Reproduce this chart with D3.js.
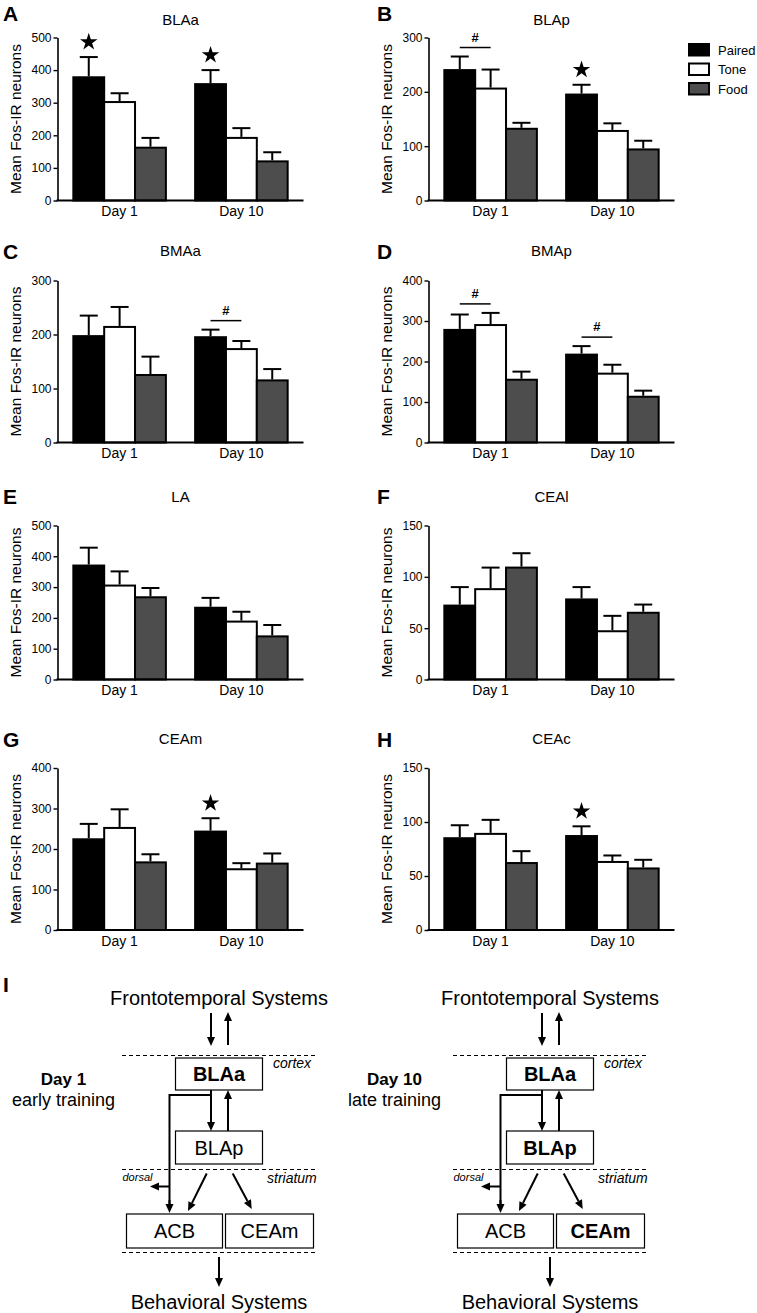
<!DOCTYPE html>
<html><head><meta charset="utf-8">
<script src="https://cdn.jsdelivr.net/npm/d3@7"></script>
<style>body{margin:0;background:#fff} svg text{font-family:"Liberation Sans",Arial,Helvetica,sans-serif}</style>
</head><body><svg id="fig" width="757" height="1313"></svg>
<script>
// ---------- data ----------
const days = ["Day 1", "Day 10"];
const groups = ["Paired", "Tone", "Food"];
const groupColors = ["#000000", "#ffffff", "#4d4d4d"];
const panelLetters = ["A", "B", "C", "D", "E", "F", "G", "H"];
const regions = ["BLAa", "BLAp", "BMAa", "BMAp", "LA", "CEAl", "CEAm", "CEAc"];
const yMaxes = [500, 300, 300, 400, 500, 150, 400, 150];
const yTickSteps = [100, 100, 100, 100, 100, 50, 100, 50];
// order: Day 1 Paired, Tone, Food, Day 10 Paired, Tone, Food
const meanBLAa = [378, 302, 162, 357, 192, 120];
const semBLAa  = [62, 27, 30, 43, 30, 28];
const meanBLAp = [240, 206, 132, 195, 128, 94];
const semBLAp  = [25, 35, 11, 18, 14, 16];
const meanBMAa = [197, 214, 125, 195, 173, 115];
const semBMAa  = [38, 37, 34, 14, 15, 21];
const meanBMAp = [278, 290, 155, 217, 170, 113];
const semBMAp  = [38, 30, 20, 21, 22, 15];
const meanLA   = [370, 305, 267, 233, 188, 140];
const semLA    = [58, 46, 30, 32, 32, 37];
const meanCEAl = [72, 88, 109, 78, 47, 65];
const semCEAl  = [18, 21, 14, 12, 15, 8];
const meanCEAm = [224, 252, 167, 243, 150, 164];
const semCEAm  = [38, 46, 20, 33, 15, 25];
const meanCEAc = [85, 89, 62, 87, 63, 57];
const semCEAc  = [12, 13, 11, 9, 6, 8];
const stars  = [["BLAa", "Day 1"], ["BLAa", "Day 10"], ["BLAp", "Day 10"], ["CEAm", "Day 10"], ["CEAc", "Day 10"]];
const hashes = [["BLAp", "Day 1"], ["BMAa", "Day 10"], ["BMAp", "Day 1"], ["BMAp", "Day 10"]];
const yLabel = "Mean Fos-IR neurons";

const means = [meanBLAa, meanBLAp, meanBMAa, meanBMAp, meanLA, meanCEAl, meanCEAm, meanCEAc];
const sems  = [semBLAa, semBLAp, semBMAa, semBMAp, semLA, semCEAl, semCEAm, semCEAc];

// ---------- layout ----------
const svg = d3.select("#fig");
const colAxisX = [57.5, 428.5];
const axisLen = 246;
const rowTop = [37.5, 280.5, 525.5, 768];
const rowH = [163, 162, 154, 162];
const rowTitleY = [25, 256, 502, 744];
const rowLetterY = [21, 259, 504, 747];

const x0 = d3.scaleBand().domain(days).range([0, axisLen]).paddingInner(0.24).paddingOuter(0.13);
const x1 = d3.scaleBand().domain(groups).range([0, x0.bandwidth()]);

regions.forEach((reg, i) => {
  const col = i % 2, row = Math.floor(i / 2);
  const ox = colAxisX[col], top = rowTop[row], plotH = rowH[row];
  const g = svg.append("g").attr("transform", `translate(${ox},${top})`);
  const y = d3.scaleLinear().domain([0, yMaxes[i]]).range([plotH, 0]);
  const ticks = d3.range(0, yMaxes[i] + 1, yTickSteps[i]);

  // panel letter
  svg.append("text").attr("x", col === 0 ? 3 : 377).attr("y", rowLetterY[row])
    .attr("font-size", 21).attr("font-weight", "bold").text(panelLetters[i]);
  // title
  svg.append("text").attr("x", ox + axisLen / 2).attr("y", rowTitleY[row])
    .attr("text-anchor", "middle").attr("font-size", 15).text(reg);
  // y label
  svg.append("text").attr("transform", `translate(${ox - 37},${top + plotH / 2}) rotate(-90)`)
    .attr("text-anchor", "middle").attr("font-size", 15.5).text(yLabel);

  // bars
  const data = [];
  days.forEach((d, di) => groups.forEach((s, si) => {
    data.push({day: d, grp: s, si, m: means[i][di * 3 + si], e: sems[i][di * 3 + si]});
  }));
  const bw = x1.bandwidth();
  g.selectAll("rect.bar").data(data).enter().append("rect")
    .attr("x", p => x0(p.day) + x1(p.grp))
    .attr("y", p => y(p.m))
    .attr("width", bw)
    .attr("height", p => plotH - y(p.m))
    .attr("fill", p => groupColors[p.si])
    .attr("stroke", "#000").attr("stroke-width", 2);
  // error bars (upper only)
  data.forEach(p => {
    const cx = x0(p.day) + x1(p.grp) + bw / 2;
    g.append("line").attr("x1", cx).attr("x2", cx).attr("y1", y(p.m) - 1).attr("y2", y(p.m + p.e))
      .attr("stroke", "#000").attr("stroke-width", 2);
    g.append("line").attr("x1", cx - 9).attr("x2", cx + 9).attr("y1", y(p.m + p.e)).attr("y2", y(p.m + p.e))
      .attr("stroke", "#000").attr("stroke-width", 2);
  });

  // y axis
  const ya = g.append("g").call(d3.axisLeft(y).tickValues(ticks).tickSize(4).tickSizeOuter(0).tickPadding(2));
  ya.select(".domain").attr("stroke-width", 1.6);
  ya.selectAll(".tick line").attr("stroke-width", 1.4);
  ya.selectAll(".tick text").attr("font-size", 12).attr("font-family", "Liberation Sans, Arial, sans-serif");
  // x axis
  const xa = g.append("g").attr("transform", `translate(0,${plotH})`)
    .call(d3.axisBottom(x0).tickSize(0).tickPadding(6));
  xa.select(".domain").remove();
  xa.selectAll(".tick text").attr("font-size", 14).attr("font-family", "Liberation Sans, Arial, sans-serif");
  g.append("line").attr("x1", -1).attr("x2", axisLen).attr("y1", plotH).attr("y2", plotH)
    .attr("stroke", "#000").attr("stroke-width", 2);

  // stars
  stars.filter(s => s[0] === reg).forEach(s => {
    const di = days.indexOf(s[1]);
    const m = means[i][di * 3], e = sems[i][di * 3];
    const cx = x0(s[1]) + x1("Paired") + bw / 2;
    g.append("path").attr("d", d3.symbol(d3.symbolStar).size(95)())
      .attr("transform", `translate(${cx},${y(m + e) - 15})`).attr("fill", "#000");
  });
  // hashes
  hashes.filter(s => s[0] === reg).forEach(s => {
    const di = days.indexOf(s[1]);
    const topP = y(means[i][di * 3] + sems[i][di * 3]);
    const topT = y(means[i][di * 3 + 1] + sems[i][di * 3 + 1]);
    const ly = Math.min(topP, topT) - 9;
    const c1 = x0(s[1]) + x1("Paired") + bw / 2, c2 = x0(s[1]) + x1("Tone") + bw / 2;
    g.append("line").attr("x1", c1).attr("x2", c2).attr("y1", ly).attr("y2", ly)
      .attr("stroke", "#000").attr("stroke-width", 1.5);
    g.append("text").attr("x", (c1 + c2) / 2).attr("y", ly - 6).attr("text-anchor", "middle")
      .attr("font-size", 13).attr("font-weight", "bold").text("#");
  });
});

// legend
const leg = svg.append("g").attr("transform", "translate(688,43)");
groups.forEach((s, si) => {
  leg.append("rect").attr("x", 1).attr("y", si * 19.5 + 1).attr("width", 20).attr("height", 11.5)
    .attr("fill", groupColors[si]).attr("stroke", "#000").attr("stroke-width", 2);
  leg.append("text").attr("x", 30).attr("y", si * 19.5 + 11.5).attr("font-size", 13).text(s);
});

// ---------- panel I : diagram ----------
svg.append("text").attr("x", 3).attr("y", 992).attr("font-size", 21).attr("font-weight", "bold").text("I");

function arrow(g, xa, ya, xb, yb) {
  const ang = Math.atan2(yb - ya, xb - xa), L = 9, W = 4;
  const bx = xb - L * Math.cos(ang), by = yb - L * Math.sin(ang);
  g.append("line").attr("x1", xa).attr("y1", ya).attr("x2", bx).attr("y2", by)
    .attr("stroke", "#000").attr("stroke-width", 2);
  const px = -Math.sin(ang) * W, py = Math.cos(ang) * W;
  g.append("path").attr("d", `M${xb},${yb}L${bx + px},${by + py}L${bx - px},${by - py}Z`).attr("fill", "#000");
}

const diagramDays = ["Day 1", "Day 10"];
const diagramSubs = ["early training", "late training"];
const diagramBold = [["BLAa"], ["BLAa", "BLAp", "CEAm"]];

diagramDays.forEach((dl, k) => {
  const g = svg.append("g").attr("transform", `translate(${k * 331},0)`);
  const T = (x, y, txt, opts = {}) => g.append("text").attr("x", x).attr("y", y)
    .attr("text-anchor", opts.anchor || "middle").attr("font-size", opts.size || 20)
    .attr("font-weight", opts.bold ? "bold" : "normal").attr("font-style", opts.italic ? "italic" : "normal").text(txt);
  T(219, 1005, "Frontotemporal Systems");
  arrow(g, 211, 1013, 211, 1046);
  arrow(g, 228, 1045, 228, 1012);
  const dash = (x1, x2, yy) => g.append("line").attr("x1", x1).attr("x2", x2).attr("y1", yy).attr("y2", yy)
    .attr("stroke", "#000").attr("stroke-width", 1).attr("stroke-dasharray", "4,3");
  dash(122, 318, 1055.5);
  T(273, 1068, "cortex", {anchor: "start", size: 14, italic: true});
  const box = (x1, x2, y1, y2, label) => {
    g.append("rect").attr("x", x1).attr("y", y1).attr("width", x2 - x1).attr("height", y2 - y1)
      .attr("fill", "#fff").attr("stroke", "#000").attr("stroke-width", 1.2);
    T((x1 + x2) / 2, (y1 + y2) / 2 + 7, label, {bold: diagramBold[k].includes(label)});
  };
  box(175.5, 262.5, 1058, 1090, "BLAa");
  T(63.5, 1085, dl, {size: 17, bold: true});
  T(63.5, 1106, diagramSubs[k], {size: 18});
  arrow(g, 211, 1090, 211, 1131);
  arrow(g, 228, 1131, 228, 1090);
  g.append("path").attr("d", "M211,1095H169.5V1204").attr("fill", "none").attr("stroke", "#000").attr("stroke-width", 2);
  arrow(g, 169.5, 1200, 169.5, 1213);
  box(175.5, 262.5, 1131, 1164, "BLAp");
  dash(122, 318, 1169.5);
  T(122.5, 1181, "dorsal", {anchor: "start", size: 11, italic: true});
  T(267, 1183, "striatum", {anchor: "start", size: 14, italic: true});
  arrow(g, 169.5, 1186.5, 150, 1186.5);
  arrow(g, 206.7, 1173.5, 188, 1211);
  arrow(g, 232.7, 1173.5, 251.7, 1209);
  box(126.5, 222.5, 1214, 1248, "ACB");
  box(225.5, 313.5, 1214, 1248, "CEAm");
  dash(122, 318, 1252.5);
  arrow(g, 219, 1257, 219, 1287);
  T(219, 1309, "Behavioral Systems");
});
</script></body></html>
